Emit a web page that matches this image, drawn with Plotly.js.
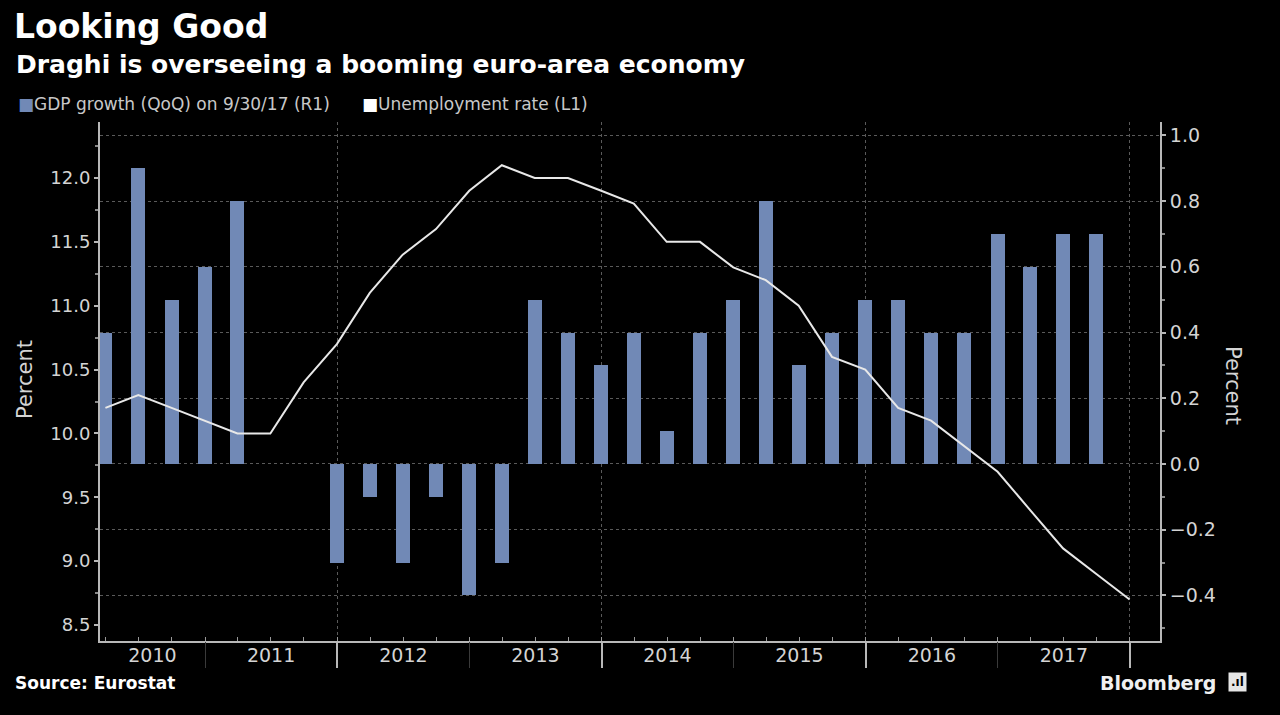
<!DOCTYPE html>
<html>
<head>
<meta charset="utf-8">
<script src="https://cdn.plot.ly/plotly-3.0.1.min.js"></script>
<style>
  html, body { margin: 0; padding: 0; background: #000; }
  #chart { width: 1280px; height: 715px; }
</style>
</head>
<body>
<div id="chart"></div>
<script>
// ---- Data ----
const gdpDates = [
  '2010-03-31','2010-06-30','2010-09-30','2010-12-31',
  '2011-03-31','2011-06-30','2011-09-30','2011-12-31',
  '2012-03-31','2012-06-30','2012-09-30','2012-12-31',
  '2013-03-31','2013-06-30','2013-09-30','2013-12-31',
  '2014-03-31','2014-06-30','2014-09-30','2014-12-31',
  '2015-03-31','2015-06-30','2015-09-30','2015-12-31',
  '2016-03-31','2016-06-30','2016-09-30','2016-12-31',
  '2017-03-31','2017-06-30','2017-09-30'
];
const gdpGrowth = [
  0.4, 0.9, 0.5, 0.6,
  0.8, 0.0, 0.0, -0.3,
  -0.1, -0.3, -0.1, -0.4,
  -0.3, 0.5, 0.4, 0.3,
  0.4, 0.1, 0.4, 0.5,
  0.8, 0.3, 0.4, 0.5,
  0.5, 0.4, 0.4, 0.7,
  0.6, 0.7, 0.7
];
const unempDates = gdpDates.concat(['2017-12-31']);
const unempRate = [
  10.2, 10.3, 10.2, 10.1,
  10.0, 10.0, 10.4, 10.7,
  11.1, 11.4, 11.6, 11.9,
  12.1, 12.0, 12.0, 11.9,
  11.8, 11.5, 11.5, 11.3,
  11.2, 11.0, 10.6, 10.5,
  10.2, 10.1, 9.9, 9.7,
  9.4, 9.1, 8.9, 8.7
];
const yearLabels = ['2010','2011','2012','2013','2014','2015','2016','2017'];
const leftTicks = [8.5, 9.0, 9.5, 10.0, 10.5, 11.0, 11.5, 12.0];

// ---- Layout geometry ----
const W = 1280, H = 715;
const M = {l: 100, r: 120, t: 122, b: 74};
const PW = W - M.l - M.r, PH = H - M.t - M.b;
const px = x => (x - M.l) / PW;
const py = y => (H - M.b - y) / PH;

const xRange = ['2010-03-16', '2018-03-25'];
const rs = new Date(xRange[0]).getTime(), re = new Date(xRange[1]).getTime();
const yearMid = yearLabels.map(y => {
  const a = Math.max(new Date(y + '-01-01').getTime(), rs);
  const b = Math.min(new Date((+y + 1) + '-01-01').getTime(), re);
  return new Date((a + b) / 2).toISOString().slice(0, 10);
});
const evenBounds = ['2012-01-01','2014-01-01','2016-01-01','2018-01-01'];
const oddBounds = ['2011-01-01','2013-01-01','2015-01-01','2017-01-01'];

const axisGrey = '#b8b8b8';
const txtGrey = '#d4d4d4';
const FONT = 'DejaVu Sans, Verdana, sans-serif';

const traces = [
  {
    // GDP growth: right-hand axis (R1)
    type: 'bar', x: gdpDates, y: gdpGrowth, yaxis: 'y', xaxis: 'x',
    marker: {color: '#7189b6'}, width: 3.35e9,
    name: 'GDP growth (QoQ) on 9/30/17 (R1)', hoverinfo: 'x+y'
  },
  {
    // Unemployment: left-hand axis (L1), drawn on top of the bars
    type: 'scatter', mode: 'lines', x: unempDates, y: unempRate, yaxis: 'y2', xaxis: 'x2',
    line: {color: '#e8e8e8', width: 2}, name: 'Unemployment rate (L1)'
  }
];

const layout = {
  width: W, height: H,
  paper_bgcolor: '#000', plot_bgcolor: '#000',
  margin: M, showlegend: false, bargap: 0,
  font: {family: FONT, color: txtGrey},
  title: {
    text: '<b>Looking Good</b>', x: 14 / W, xanchor: 'left', xref: 'container',
    y: 1 - 26 / H, yanchor: 'middle', yref: 'container',
    font: {family: FONT, size: 33, color: '#ffffff'}
  },
  xaxis: {
    type: 'date', range: xRange,
    tickmode: 'array', tickvals: yearMid, ticktext: yearLabels,
    ticks: '', showgrid: false, ticklabelstandoff: -4,
    tickfont: {family: FONT, size: 19, color: txtGrey},
    showline: true, linecolor: axisGrey, linewidth: 2,
    zeroline: false,
    minor: {dtick: 'M3', tick0: '2010-01-01', ticks: 'inside', ticklen: 4, tickcolor: '#999', showgrid: false}
  },
  xaxis2: {
    type: 'date', range: xRange, overlaying: 'x', anchor: 'y2', side: 'bottom',
    tickmode: 'array', tickvals: evenBounds, showticklabels: false,
    ticks: 'outside', ticklen: 26, tickwidth: 2, tickcolor: axisGrey,
    showgrid: true, gridcolor: '#5a5a5a', griddash: 'dot', gridwidth: 1,
    showline: false, zeroline: false,
    minor: {tickmode: 'array', tickvals: oddBounds, ticks: 'outside', ticklen: 26, tickwidth: 1, tickcolor: '#3a3a3a', showgrid: false}
  },
  yaxis: {
    range: [-0.5387, 1.0408], side: 'right',
    tick0: 0, dtick: 0.2, tickformat: '.1f',
    ticks: 'outside', ticklen: 4, tickwidth: 2, tickcolor: axisGrey,
    tickfont: {family: FONT, size: 19, color: txtGrey},
    showgrid: true, gridcolor: '#5a5a5a', griddash: 'dot', gridwidth: 1,
    zeroline: false,
    showline: true, linecolor: axisGrey, linewidth: 2,
    minor: {dtick: 0.1, tick0: 0, ticks: 'outside', ticklen: 3, tickcolor: '#888', showgrid: false}
  },
  yaxis2: {
    range: [8.375, 12.4385], overlaying: 'y', side: 'left', anchor: 'x2',
    tickmode: 'array', tickvals: leftTicks, tickformat: '.1f',
    ticks: 'outside', ticklen: 4, tickwidth: 2, tickcolor: axisGrey,
    tickfont: {family: FONT, size: 18, color: txtGrey},
    showgrid: false, zeroline: false,
    showline: true, linecolor: axisGrey, linewidth: 2,
    minor: {dtick: 0.25, tick0: 8.25, ticks: 'outside', ticklen: 3, tickcolor: '#888', showgrid: false}
  },
  annotations: [
    {text: '<b>Draghi is overseeing a booming euro-area economy</b>', xref: 'paper', yref: 'paper',
     x: px(14), y: py(64), xanchor: 'left', yanchor: 'middle', showarrow: false,
     font: {family: FONT, size: 25, color: '#ffffff'}},
    {text: '<span style="color:#7189b6">■</span>GDP growth (QoQ) on 9/30/17 (R1)', xref: 'paper', yref: 'paper',
     x: px(16), y: py(104), xanchor: 'left', yanchor: 'middle', showarrow: false,
     font: {family: FONT, size: 17, color: '#c8c8c8'}},
    {text: '<span style="color:#ffffff">■</span>Unemployment rate (L1)', xref: 'paper', yref: 'paper',
     x: px(360), y: py(104), xanchor: 'left', yanchor: 'middle', showarrow: false,
     font: {family: FONT, size: 17, color: '#c8c8c8'}},
    {text: 'Percent', xref: 'paper', yref: 'paper', x: px(25), y: py(380),
     xanchor: 'center', yanchor: 'middle', textangle: -90, showarrow: false,
     font: {family: FONT, size: 21, color: txtGrey}},
    {text: 'Percent', xref: 'paper', yref: 'paper', x: px(1233), y: py(385),
     xanchor: 'center', yanchor: 'middle', textangle: 90, showarrow: false,
     font: {family: FONT, size: 21, color: txtGrey}},
    {text: '<b>Source: Eurostat</b>', xref: 'paper', yref: 'paper', x: px(13), y: py(683),
     xanchor: 'left', yanchor: 'middle', showarrow: false,
     font: {family: FONT, size: 17, color: '#ffffff'}},
    {text: '<b>Bloomberg</b>', xref: 'paper', yref: 'paper', x: px(1218), y: py(683),
     xanchor: 'right', yanchor: 'middle', showarrow: false,
     font: {family: FONT, size: 19, color: '#f0f0f0'}},
    {text: '<b>.ıl</b>', xref: 'paper', yref: 'paper', x: px(1237), y: py(682),
     xanchor: 'center', yanchor: 'middle', showarrow: false, bgcolor: '#e6e6e6',
     borderpad: 2, font: {family: FONT, size: 12, color: '#000'}}
  ]
};

Plotly.newPlot('chart', traces, layout, {displayModeBar: false, staticPlot: true});
</script>
</body>
</html>
